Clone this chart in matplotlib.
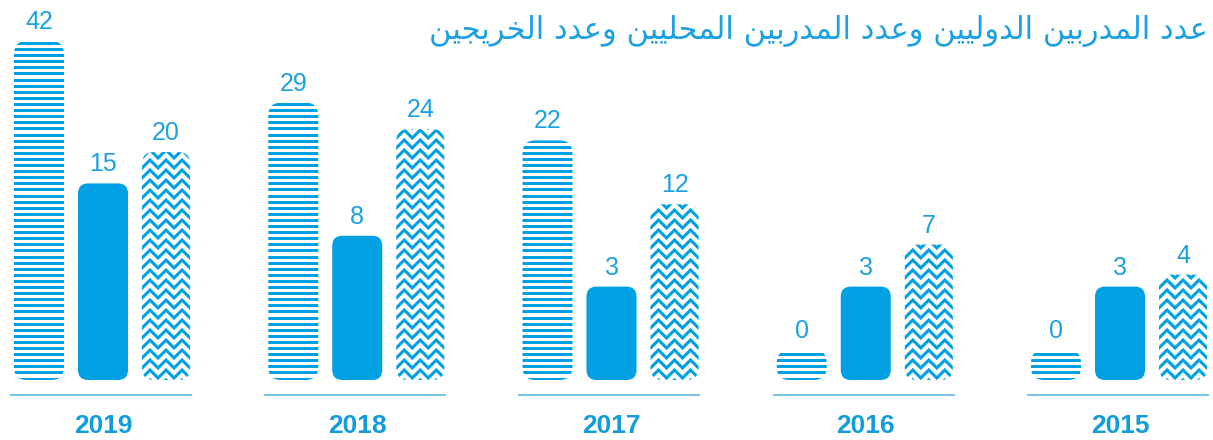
import numpy as np
import matplotlib
matplotlib.use('Agg')
import matplotlib.pyplot as plt
from matplotlib.patches import FancyBboxPatch
from matplotlib.collections import LineCollection
from matplotlib.transforms import IdentityTransform

#data
years = ['2019', '2018', '2017', '2016', '2015']
intl_trainers = [42, 29, 22, 0, 0]    #striped bars
local_trainers = [15, 8, 3, 3, 3]     #solid bars
graduates = [20, 24, 12, 7, 4]        #zigzag bars

TITLE = 'عدد المدربين الدوليين وعدد المدربين المحليين وعدد الخريجين'

BLUE = '#00A0E3'
TXT = '#1BA1E2'
LINE = '#5CB8E8'

#matplotlib has no arabic shaping, so map letters to presentation forms
#(isolated, final, initial, medial)
FORMS = {
    'ا': (0xFE8D, 0xFE8E, None, None),
    'ب': (0xFE8F, 0xFE90, 0xFE91, 0xFE92),
    'ج': (0xFE9D, 0xFE9E, 0xFE9F, 0xFEA0),
    'ح': (0xFEA1, 0xFEA2, 0xFEA3, 0xFEA4),
    'خ': (0xFEA5, 0xFEA6, 0xFEA7, 0xFEA8),
    'د': (0xFEA9, 0xFEAA, None, None),
    'ر': (0xFEAD, 0xFEAE, None, None),
    'ع': (0xFEC9, 0xFECA, 0xFECB, 0xFECC),
    'ل': (0xFEDD, 0xFEDE, 0xFEDF, 0xFEE0),
    'م': (0xFEE1, 0xFEE2, 0xFEE3, 0xFEE4),
    'ن': (0xFEE5, 0xFEE6, 0xFEE7, 0xFEE8),
    'و': (0xFEED, 0xFEEE, None, None),
    'ي': (0xFEF1, 0xFEF2, 0xFEF3, 0xFEF4),
}

def shape(text):
    out = []
    for i, ch in enumerate(text):
        if ch not in FORMS:
            out.append(ch)
            continue
        prev = text[i-1] if i > 0 else ' '
        nxt = text[i+1] if i+1 < len(text) else ' '
        jp = prev in FORMS and FORMS[prev][2] is not None
        jn = FORMS[ch][2] is not None and nxt in FORMS
        iso, fin, ini, med = FORMS[ch]
        if jp and jn:
            c = med
        elif jp:
            c = fin
        elif jn:
            c = ini
        else:
            c = iso
        out.append(chr(c))
    return ''.join(out)[::-1]

#bar heights in the picture grow like v**0.6
fwd = lambda v: np.sign(v)*np.abs(v)**0.6
inv = lambda u: np.sign(u)*np.abs(u)**(1/0.6)
BASE = -0.86  #floor so a zero still shows a small stub

fig = plt.figure(figsize=(12.13, 4.40), dpi=100)
ax = fig.add_axes([0, 60/440, 1, 339/440])
ax.set_yscale('function', functions=(fwd, inv))
ax.set_xlim(-103/254.25, (1213-103)/254.25)
ax.set_ylim(BASE, max(intl_trainers + local_trainers + graduates))
ax.axis('off')

x = np.arange(len(years))
series = [(intl_trainers, -0.2517, 0.1967, 13, 'stripe'),
          (local_trainers, 0.0, 0.1967, 10, 'solid'),
          (graduates, 0.248, 0.189, 12, 'zigzag')]

allbars = []
for vals, off, w, r, kind in series:
    v = np.array(vals, dtype=float)
    bars = ax.bar(x + off, v - BASE, bottom=BASE, width=w, color=BLUE)
    allbars.append((bars, r, kind))
    for xi, vi in zip(x + off, vals):
        ax.annotate(str(vi), (xi, vi), xytext=(0, 8.6), textcoords='offset points',
                    ha='center', va='baseline', fontsize=18, color=TXT)

fig.canvas.draw()
ident = IdentityTransform()
for bars, r, kind in allbars:
    for b in bars:
        bb = b.get_window_extent()
        b.set_visible(False)
        rr = min(r, bb.height/2, bb.width/2)
        if kind == 'solid':
            p = FancyBboxPatch((bb.x0, bb.y0), bb.width, bb.height,
                               boxstyle='round,pad=0,rounding_size=%f' % rr,
                               transform=ident, facecolor=BLUE, edgecolor='none')
            fig.add_artist(p)
            continue
        p = FancyBboxPatch((bb.x0, bb.y0), bb.width, bb.height,
                           boxstyle='round,pad=0,rounding_size=%f' % rr,
                           transform=ident, facecolor='none', edgecolor='none')
        fig.add_artist(p)
        segs = []
        if kind == 'stripe':
            y = bb.y0 + 1.5
            while y < bb.y1 + 3:
                segs.append([(bb.x0 - 2, y), (bb.x1 + 2, y)])
                y += 6.1
            lc = LineCollection(segs, linewidths=2.16, colors=BLUE, transform=ident,
                                capstyle='butt')
        else:
            xs = np.arange(bb.x0 - 16, bb.x1 + 16, 8)
            zz = np.where(np.arange(len(xs)) % 2 == 0, -4.0, 4.0)
            y = bb.y0 - 4
            while y < bb.y1 + 8:
                segs.append(np.column_stack([xs, y + zz]))
                y += 10
            lc = LineCollection(segs, linewidths=2.2, colors=BLUE, transform=ident,
                                capstyle='butt', joinstyle='miter')
        lc.set_clip_path(p)
        fig.add_artist(lc)

#base lines and year labels
xt = ax.get_xaxis_transform()
for i, yr in enumerate(years):
    ax.plot([i - 0.366, i + 0.35], [-0.0442, -0.0442], color=LINE, lw=1.2,
            transform=xt, clip_on=False, solid_capstyle='butt')
    ax.text(i, -0.156, yr, transform=xt, ha='center', va='baseline',
            fontsize=19, fontweight='bold', color='#129CD9',
            family='Liberation Sans')

for t in ax.texts:
    if t.get_fontweight() != 'bold':
        t.set_family('Liberation Sans')

fig.text(1208/1213, 1 - 31/440, shape(TITLE), ha='right', va='center',
         fontsize=22, color=TXT, family='DejaVu Sans')

fig.savefig('out.png', dpi=100)
